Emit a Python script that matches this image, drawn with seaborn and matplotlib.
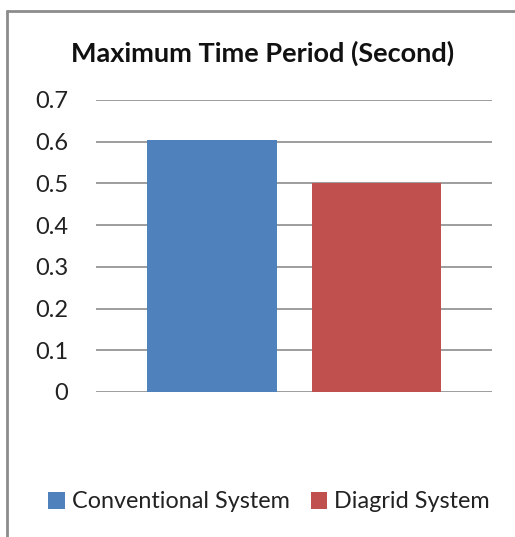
import matplotlib
matplotlib.use('Agg')
import matplotlib.pyplot as plt
import seaborn as sns
import pandas as pd
from matplotlib.lines import Line2D
from matplotlib.patches import Patch

# chart values
systems = ['Conventional System', 'Diagrid System']
max_period = [0.603, 0.5]
colors = ['#4f81bd', '#c0504d']
yticks = [0, 0.1, 0.2, 0.3, 0.4, 0.5, 0.6, 0.7]

df = pd.DataFrame({'system': systems, 'period': max_period})

sns.set_theme(style='white')
plt.rcParams['font.family'] = ['Lato', 'DejaVu Sans']

fig = plt.figure(figsize=(5.15, 5.37), dpi=100)
ax = fig.add_axes([96 / 515, 1 - 392 / 537, 396 / 515, 292 / 537])

sns.barplot(data=df, x='system', y='period', hue='system', palette=colors,
            width=0.79, legend=False, ax=ax, saturation=1, edgecolor='none')

ax.set_xlim(-0.705, 1.702)
ax.set_ylim(0, 0.7)
ax.set_yticks(yticks)
ax.set_yticklabels([f'{v:g}' for v in yticks], fontsize=17, color='#222222')
ax.set_xticks([])
ax.set_xlabel('')
ax.set_ylabel('')
ax.tick_params(axis='y', length=0, pad=20)
ax.yaxis.grid(True, color='#8c8c8c', linewidth=1.2)
ax.set_axisbelow(True)
for s in ax.spines.values():
    s.set_visible(False)

fig.text(263 / 515, 1 - 53 / 537, 'Maximum Time Period (Second)',
         ha='center', va='center', fontsize=19.5, fontweight='bold', color='#111111')

handles = [Patch(facecolor=c, edgecolor='none') for c in colors]
fig.legend(handles, systems, loc='center', bbox_to_anchor=(269 / 515, 1 - 502 / 537),
           ncol=2, frameon=False, fontsize=16.8, handlelength=0.7, handleheight=0.7,
           handletextpad=0.3, columnspacing=0.9, labelcolor='#222222')

# outer chart border (top and left visible)
fig.add_artist(Line2D([7 / 515, 7 / 515], [0, 1 - 11 / 537], color='#8c8c8c', linewidth=2,
                      transform=fig.transFigure))
fig.add_artist(Line2D([7 / 515, 1], [1 - 11 / 537, 1 - 11 / 537], color='#8c8c8c', linewidth=2,
                      transform=fig.transFigure))

fig.savefig('out.png', dpi=100)
